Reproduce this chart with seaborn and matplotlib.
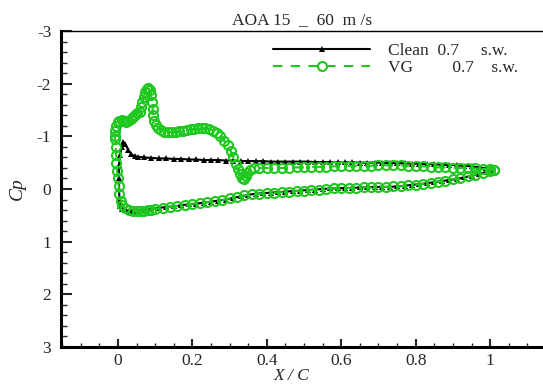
import numpy as np
import pandas as pd
import matplotlib
matplotlib.use("Agg")
import matplotlib.pyplot as plt
import seaborn as sns

# Cp distribution, AOA 15 deg, 60 m/s
clean_x_upper = [0.003, 0.006, 0.01, 0.014, 0.02, 0.028, 0.036, 0.045, 0.055, 0.07,
                 0.09, 0.11, 0.13, 0.15, 0.17, 0.19, 0.21, 0.23, 0.25, 0.27,
                 0.29, 0.31, 0.33, 0.35, 0.37, 0.39, 0.41, 0.43, 0.45, 0.47,
                 0.49, 0.51, 0.53, 0.55, 0.57, 0.59, 0.61, 0.63, 0.65, 0.67,
                 0.69, 0.71, 0.73, 0.75, 0.77, 0.79, 0.81, 0.83, 0.85, 0.87,
                 0.89, 0.91, 0.93, 0.95, 0.97, 0.99, 1.0]
clean_cp_upper = [-0.45, -0.65, -0.80, -0.90, -0.85, -0.74, -0.66, -0.62, -0.61, -0.60,
                  -0.59, -0.58, -0.58, -0.57, -0.57, -0.56, -0.56, -0.55, -0.55, -0.55,
                  -0.54, -0.54, -0.53, -0.53, -0.53, -0.53, -0.52, -0.52, -0.52, -0.52,
                  -0.52, -0.52, -0.51, -0.51, -0.51, -0.51, -0.51, -0.51, -0.50, -0.50,
                  -0.50, -0.50, -0.49, -0.49, -0.49, -0.48, -0.48, -0.47, -0.47, -0.46,
                  -0.46, -0.45, -0.44, -0.43, -0.41, -0.39, -0.38]
clean_x_lower = [0.003, 0.003, 0.004, 0.006, 0.01, 0.02, 0.03, 0.04, 0.05, 0.07,
                 0.09, 0.11, 0.13, 0.15, 0.17, 0.19, 0.21, 0.23, 0.25, 0.27,
                 0.29, 0.31, 0.33, 0.35, 0.37, 0.39, 0.41, 0.43, 0.45, 0.47,
                 0.49, 0.51, 0.53, 0.55, 0.57, 0.59, 0.61, 0.63, 0.65, 0.67,
                 0.69, 0.71, 0.73, 0.75, 0.77, 0.79, 0.81, 0.83, 0.85, 0.87,
                 0.89, 0.91, 0.93, 0.95, 0.97, 0.99, 1.0]
clean_cp_lower = [-0.20, 0.00, 0.20, 0.33, 0.38, 0.40, 0.41, 0.41, 0.41, 0.40,
                  0.38, 0.36, 0.34, 0.33, 0.31, 0.29, 0.28, 0.26, 0.24, 0.22,
                  0.20, 0.17, 0.14, 0.11, 0.09, 0.08, 0.07, 0.06, 0.05, 0.04,
                  0.03, 0.02, 0.01, 0.00, -0.01, -0.01, -0.02, -0.02, -0.03, -0.03,
                  -0.04, -0.04, -0.04, -0.05, -0.06, -0.08, -0.09, -0.11, -0.13, -0.15,
                  -0.17, -0.19, -0.22, -0.25, -0.28, -0.33, -0.36]

vg_x_upper = [-0.008, -0.007, -0.005, -0.001, 0.004, 0.01, 0.016, 0.022, 0.028, 0.034,
              0.04, 0.046, 0.052, 0.058, 0.062, 0.066, 0.07, 0.074, 0.078, 0.082,
              0.086, 0.089, 0.091, 0.093, 0.095, 0.098, 0.102, 0.108, 0.115, 0.125,
              0.135, 0.145, 0.155, 0.165, 0.175, 0.185, 0.195, 0.205, 0.215, 0.225,
              0.235, 0.245, 0.255, 0.265, 0.275, 0.285, 0.295, 0.303, 0.31, 0.316,
              0.322, 0.328, 0.333, 0.338, 0.343, 0.348, 0.355, 0.365, 0.38, 0.40,
              0.42, 0.44, 0.46, 0.48, 0.50, 0.52, 0.54, 0.56, 0.58, 0.60,
              0.62, 0.64, 0.66, 0.68, 0.70, 0.72, 0.74, 0.76, 0.78, 0.80,
              0.82, 0.84, 0.86, 0.88, 0.90, 0.92, 0.94, 0.96, 0.98, 1.0, 1.01]
vg_cp_upper = [-1.00, -1.10, -1.20, -1.27, -1.30, -1.31, -1.30, -1.28, -1.30, -1.33,
               -1.37, -1.41, -1.44, -1.47, -1.55, -1.65, -1.75, -1.84, -1.90, -1.92,
               -1.88, -1.78, -1.65, -1.52, -1.40, -1.30, -1.22, -1.16, -1.12, -1.09,
               -1.08, -1.08, -1.09, -1.10, -1.11, -1.12, -1.13, -1.14, -1.15, -1.16,
               -1.16, -1.14, -1.11, -1.06, -1.00, -0.92, -0.83, -0.72, -0.60, -0.48,
               -0.38, -0.28, -0.21, -0.19, -0.24, -0.31, -0.37, -0.39, -0.40, -0.40,
               -0.40, -0.40, -0.40, -0.41, -0.41, -0.42, -0.42, -0.42, -0.43, -0.43,
               -0.44, -0.44, -0.44, -0.44, -0.45, -0.45, -0.45, -0.45, -0.44, -0.44,
               -0.43, -0.42, -0.41, -0.41, -0.40, -0.40, -0.39, -0.39, -0.38, -0.38, -0.37]
vg_x_lower = [-0.008, -0.006, -0.005, -0.004, -0.002, 0.0, 0.002, 0.004, 0.007, 0.012,
              0.02, 0.03, 0.04, 0.05, 0.06, 0.07, 0.08, 0.09, 0.10, 0.12,
              0.14, 0.16, 0.18, 0.20, 0.22, 0.24, 0.26, 0.28, 0.30, 0.32,
              0.34, 0.36, 0.38, 0.40, 0.42, 0.44, 0.46, 0.48, 0.50, 0.52,
              0.54, 0.56, 0.58, 0.60, 0.62, 0.64, 0.66, 0.68, 0.70, 0.72,
              0.74, 0.76, 0.78, 0.80, 0.82, 0.84, 0.86, 0.88, 0.90, 0.92,
              0.94, 0.96, 0.98, 1.0, 1.01]
vg_cp_lower = [-0.95, -0.80, -0.65, -0.50, -0.35, -0.20, -0.05, 0.10, 0.22, 0.31,
               0.37, 0.40, 0.41, 0.42, 0.42, 0.41, 0.40, 0.39, 0.38, 0.36,
               0.34, 0.32, 0.30, 0.28, 0.27, 0.25, 0.23, 0.21, 0.18, 0.15,
               0.12, 0.10, 0.09, 0.08, 0.07, 0.06, 0.05, 0.04, 0.03, 0.02,
               0.01, 0.00, -0.01, -0.01, -0.02, -0.02, -0.03, -0.03, -0.04, -0.04,
               -0.05, -0.05, -0.07, -0.08, -0.10, -0.12, -0.14, -0.16, -0.19, -0.21,
               -0.24, -0.27, -0.31, -0.35, -0.37]

x_ticks = [0, 0.2, 0.4, 0.6, 0.8, 1]
x_tick_labels = ["0", "0.2", "0.4", "0.6", "0.8", "1"]
y_ticks = [-3, -2, -1, 0, 1, 2, 3]
y_tick_labels = ["-3", "-2", "-1", "0", "1", "2", "3"]

GREEN = "#1ec81e"


def loop(x_lower, cp_lower, x_upper, cp_upper):
    # trailing edge -> lower surface -> leading edge -> upper surface -> trailing edge
    xs = list(reversed(x_lower)) + list(x_upper)
    cps = list(reversed(cp_lower)) + list(cp_upper)
    return pd.DataFrame({"x": xs, "cp": cps})


clean = loop(clean_x_lower, clean_cp_lower, clean_x_upper, clean_cp_upper)
vg = loop(vg_x_lower, vg_cp_lower, vg_x_upper, vg_cp_upper)

sns.set_style("white")
plt.rcParams["font.family"] = ["Liberation Serif", "DejaVu Serif"]
plt.rcParams["axes.unicode_minus"] = False

fig = plt.figure(figsize=(5.43, 3.87), dpi=100)
ax = fig.add_axes([0.1123, 0.1034, 0.8877, 0.8165])

sns.lineplot(data=clean, x="x", y="cp", ax=ax, sort=False, estimator=None,
             color="black", linewidth=1.5, marker="^", markersize=5,
             markeredgewidth=0, label="Clean  0.7     s.w.")
sns.lineplot(data=vg, x="x", y="cp", ax=ax, sort=False, estimator=None,
             color=GREEN, linewidth=1.5, linestyle=(0, (4.5, 4)), marker="o",
             markersize=6.5, markerfacecolor="none", markeredgecolor=GREEN,
             markeredgewidth=1.5, label="VG         0.7    s.w.")

ax.set_xlim(-0.153, 1.142)
ax.set_ylim(3, -3)
ax.set_xticks(x_ticks)
ax.set_xticklabels(x_tick_labels)
ax.set_yticks(y_ticks)
ax.set_yticklabels(y_tick_labels)
ax.set_xticks(np.arange(-0.15, 1.15, 0.05), minor=True)
ax.set_yticks(np.arange(-3, 3.01, 0.2), minor=True)

ax.tick_params(axis="y", which="major", direction="in", length=8, width=1.5,
               labelsize=12.5, pad=7, left=True)
ax.tick_params(axis="y", which="minor", direction="in", length=4.5, width=1,
               left=True)
ax.tick_params(axis="x", which="major", direction="in", length=6, width=1.5,
               labelsize=12.5, pad=4, bottom=True)
ax.tick_params(axis="x", which="minor", direction="in", length=3, width=1,
               bottom=True)

for side in ["left", "bottom"]:
    ax.spines[side].set_linewidth(2.2)
    ax.spines[side].set_color("black")
ax.spines["top"].set_linewidth(1.0)
ax.spines["top"].set_color("black")
ax.spines["right"].set_visible(False)

ax.set_title("AOA 15  _  60  m /s", fontsize=12.5, pad=5)
ax.set_xlabel("X / C", fontsize=12.5, style="italic")
ax.xaxis.set_label_coords(0.479, -0.068)
ax.set_ylabel("Cp", fontsize=14, style="italic", labelpad=8)

ax.legend(loc="upper left", bbox_to_anchor=(273 / 543, 1 - 43 / 387),
          bbox_transform=fig.transFigure, frameon=False, fontsize=12.5,
          handlelength=5.6, handletextpad=1.0, numpoints=1,
          borderpad=0, borderaxespad=0, labelspacing=0.05)

fig.savefig("out.png", dpi=100)
